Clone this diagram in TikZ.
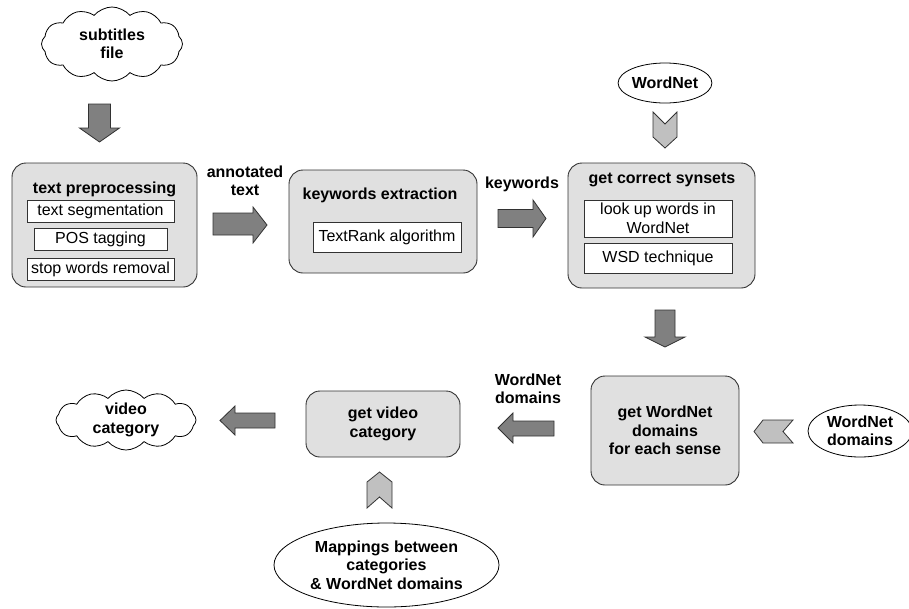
\documentclass[tikz,border=0pt]{standalone}
\usepackage{fontspec}
\setmainfont{Liberation Sans}
\usetikzlibrary{shapes.symbols,shapes.geometric}
\definecolor{boxfill}{RGB}{224,224,224}
\definecolor{darkfill}{RGB}{128,128,128}
\definecolor{lightfill}{RGB}{192,192,192}
\definecolor{edgec}{RGB}{50,50,50}
\newcommand\fsz{\fontsize{16}{18.5}\selectfont}
\begin{document}
\begin{tikzpicture}[x=1pt,y=-1pt,
  every node/.style={font=\fsz},
  proc/.style={draw=edgec, fill=boxfill, rounded corners=14pt, line width=0.9pt, inner sep=0pt},
  subbox/.style={draw=edgec, fill=white, line width=0.8pt, inner sep=0pt, align=center},
  ttl/.style={font=\fsz\bfseries, anchor=base, inner sep=0pt},
  lbl/.style={font=\fsz\bfseries, align=center, inner sep=0pt},
  bigarrow/.style={draw=edgec, fill=darkfill, line width=0.8pt},
  chev/.style={draw=edgec, fill=lightfill, line width=0.8pt},
  cloudn/.style={cloud, cloud puffs=12, cloud puff arc=100, aspect=2, draw=black, fill=white, line width=0.8pt, align=center, font=\fsz\bfseries, inner sep=0pt},
  ell/.style={ellipse, draw=black, fill=white, line width=0.8pt, inner sep=0pt, align=center, font=\fsz\bfseries}]
\useasboundingbox (0,0) rectangle (909,608);

% sources / sinks
\node[cloudn, minimum width=141pt, minimum height=74pt] (subs) at (112,44) {subtitles\\file};
\node[cloudn, minimum width=140pt, minimum height=60pt] (vcat) at (126,420) {video\\category};
\node[ell, minimum width=86pt, minimum height=40pt] (wn) at (665,83) {WordNet};
\node[ell, minimum width=104pt, minimum height=52pt] (wnd) at (860,431) {WordNet\\domains};
\node[ell, minimum width=225pt, minimum height=84pt] (map) at (386.5,565) {Mappings between\\categories\\\& WordNet domains};

% process boxes
\node[proc, minimum width=185pt, minimum height=124pt] (prep) at (104.5,225) {};
\node[ttl] (prept) at (104.5,193) {text preprocessing};
\node[subbox, minimum width=147pt, minimum height=22pt] (seg) at (100.5,211) {text segmentation};
\node[subbox, minimum width=133pt, minimum height=22pt] (pos) at (100.5,239) {POS tagging};
\node[subbox, minimum width=147pt, minimum height=22pt] (stop) at (100.5,269) {stop words removal};

\node[proc, minimum width=188pt, minimum height=103pt] (kw) at (383,221.5) {};
\node[ttl] (kwt) at (380,199) {keywords extraction};
\node[subbox, minimum width=148pt, minimum height=30pt] (tr) at (387,237) {TextRank algorithm};

\node[proc, minimum width=187pt, minimum height=125pt] (syn) at (661.5,225.5) {};
\node[ttl] (synt) at (662,183) {get correct synsets};
\node[subbox, minimum width=148pt, minimum height=37pt] (look) at (658,218.5) {look up words in\\WordNet};
\node[subbox, minimum width=148pt, minimum height=30pt] (wsd) at (658,258) {WSD technique};

\node[proc, minimum width=148pt, minimum height=109pt, align=center, font=\fsz\bfseries] (dom) at (665,430.5) {get WordNet\\domains\\for each sense};
\node[proc, minimum width=154pt, minimum height=66pt, align=center, font=\fsz\bfseries] (vid) at (383,424) {get video\\category};

% labels
\node[lbl] (lann) at (245,181) {annotated\\text};
\node[lbl] (lkw) at (522,184) {keywords};
\node[lbl] (lwd) at (528,389) {WordNet\\domains};

% block arrows
\draw[bigarrow] (88.5,104) -- (110.5,104) -- (110.5,128) -- (119.5,128) -- (99.5,142) -- (79.5,128) -- (88.5,128) -- cycle;
\draw[bigarrow] (213,213) -- (253,213) -- (253,207) -- (267,225) -- (253,243) -- (253,235) -- (213,235) -- cycle;
\draw[bigarrow] (498,209.5) -- (533,209.5) -- (533,200) -- (546,218.5) -- (533,237) -- (533,227.5) -- (498,227.5) -- cycle;
\draw[bigarrow] (655,310) -- (675,310) -- (675,337) -- (685,337) -- (665,347) -- (645,337) -- (655,337) -- cycle;
\draw[bigarrow] (554,421) -- (513,421) -- (513,413) -- (498,428) -- (513,443) -- (513,436) -- (554,436) -- cycle;
\draw[bigarrow] (275,413) -- (235,413) -- (235,406) -- (220,420.5) -- (235,435) -- (235,428) -- (275,428) -- cycle;

% chevrons
\draw[chev] (653,112) -- (665,124) -- (677,112) -- (677,137) -- (665,148) -- (653,137) -- cycle;
\draw[chev] (754,431.5) -- (763,420) -- (793,420) -- (783,431.5) -- (793,443) -- (763,443) -- cycle;
\draw[chev] (379.5,472) -- (392,482) -- (392,508) -- (379.5,497) -- (367,508) -- (367,482) -- cycle;
\end{tikzpicture}
\end{document}
